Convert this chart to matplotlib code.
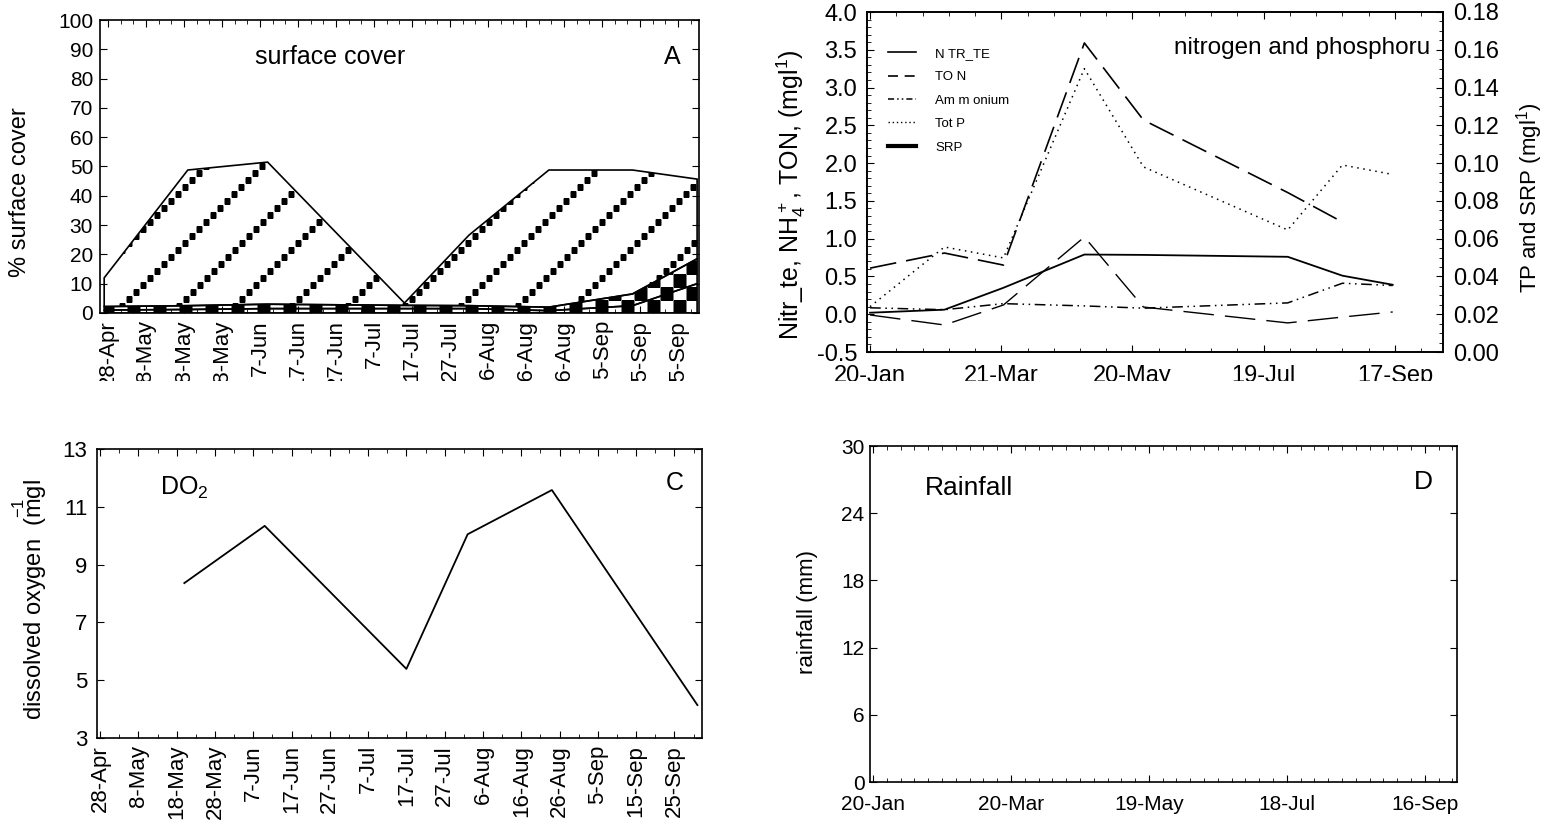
import numpy as np
import matplotlib
matplotlib.use('Agg')
import matplotlib.pyplot as plt
from matplotlib.lines import Line2D
from matplotlib.patches import PathPatch
from matplotlib.ticker import FixedLocator, MultipleLocator, AutoMinorLocator
from matplotlib.transforms import Bbox, TransformedBbox

plt.rcParams['font.family'] = ['Liberation Sans', 'DejaVu Sans']
plt.rcParams['mathtext.default'] = 'regular'
plt.rcParams['axes.unicode_minus'] = False
plt.rcParams['xtick.direction'] = 'in'
plt.rcParams['ytick.direction'] = 'in'
plt.rcParams['axes.linewidth'] = 1.2

NARROW = ['Liberation Sans Narrow', 'Liberation Sans', 'DejaVu Sans']

# ---- A: surface cover, stacked layers (%) against day of year ----
cover_days = [117, 139, 160, 196, 213, 234, 256, 273]
cover_layer1 = [1.0, 1.2, 1.5, 1.5, 1.5, 0.8, 2.5, 10.0]
cover_layer2 = [1.2, 1.3, 1.5, 1.1, 1.0, 1.2, 4.0, 8.5]
cover_layer3 = [9.8, 46.3, 48.5, 0.8, 24.1, 46.8, 42.3, 27.2]

summer_ticks = [118, 128, 138, 148, 158, 168, 178, 188, 198, 208, 218, 228, 238, 248, 258, 268]
summer_labels = ['28-Apr', '8-May', '18-May', '28-May', '7-Jun', '17-Jun', '27-Jun', '7-Jul',
                 '17-Jul', '27-Jul', '6-Aug', '16-Aug', '26-Aug', '5-Sep', '15-Sep', '25-Sep']

# ---- B: nitrogen and phosphorus ----
nut_days = [20, 54, 81, 118, 145, 211, 236, 259]
nitrate = [0.02, 0.06, 0.35, 0.79, 0.785, 0.76, 0.51, 0.39]
ton = [0.61, 0.81, 0.65, 3.59, 2.57, 1.61, 1.22, np.nan]
ammonium = [0.085, 0.06, 0.14, 0.11, 0.08, 0.15, 0.41, 0.38]
tot_p = [0.024, 0.0556, 0.0498, 0.150, 0.098, 0.0646, 0.099, 0.094]
srp = [0.0196, 0.0143, 0.0249, 0.0609, 0.0238, 0.0154, 0.0185, 0.0212]
nut_ticks = [20, 80, 140, 200, 260]
nut_labels = ['20-Jan', '21-Mar', '20-May', '19-Jul', '17-Sep']

# ---- C: dissolved oxygen ----
do_days = [140, 161, 198, 214, 236, 274]
do_values = [8.36, 10.34, 5.39, 10.05, 11.58, 4.14]
do_ticks = [3, 5, 7, 9, 11, 13]

# ---- D: rainfall (no data drawn) ----
rain_ticks = [20, 80, 140, 200, 260]
rain_labels = ['20-Jan', '20-Mar', '19-May', '18-Jul', '16-Sep']

W, H = 1556, 821
fig = plt.figure(figsize=(W / 100, H / 100), dpi=100)


def box(l, t, r, b):
    return [l / W, 1 - b / H, (r - l) / W, (b - t) / H]


def square_pattern(ax, poly, xs_px, ys_px, size_px):
    w, h = ax.bbox.width, ax.bbox.height
    ln, = ax.plot(np.asarray(xs_px) / w, np.asarray(ys_px) / h, ls='none', marker='s',
                  ms=size_px * 0.72, mfc='black', mec='none', transform=ax.transAxes, zorder=1.5)
    ln.set_clip_path(poly.get_paths()[0], ax.transData)


def ticks(ax, labelsize, xpad, ypad):
    ax.tick_params(which='both', top=True, right=True, labelsize=labelsize)
    ax.tick_params(axis='x', pad=xpad)
    ax.tick_params(axis='y', pad=ypad)
    ax.tick_params(which='major', length=5)
    ax.tick_params(which='minor', length=3)


top_clip = TransformedBbox(Bbox([[0, 1 - 381 / H], [1, 1]]), fig.transFigure)

# ================= A =================
axA = fig.add_axes(box(100, 20, 699, 313))
polys = axA.stackplot(cover_days, cover_layer1, cover_layer2, cover_layer3,
                      colors=['white'] * 3, edgecolor='none', zorder=1)
axA.set_xlim(115.9, 273.5)
axA.set_ylim(0, 100)

wA, hA = axA.bbox.width, axA.bbox.height
# checker pattern for the two bottom layers
cell = 13
gx, gy = np.meshgrid(np.arange(cell / 2, wA, cell), np.arange(cell / 2, 100, cell))
on = ((gx // cell + gy // cell) % 2 == 0)
for p in polys[:2]:
    square_pattern(axA, p, gx[on], gy[on], cell)
# diagonal rows of squares for the top layer
dx, dy = [], []
for c in np.arange(15 - 56.5 * 6, wA, 56.5):
    t = np.arange(0, hA, 7.0)
    dx.append(c + t)
    dy.append(t)
square_pattern(axA, polys[2], np.concatenate(dx), np.concatenate(dy), 6.3)
for p in polys:
    axA.add_patch(PathPatch(p.get_paths()[0], fill=False, ec='black', lw=1.2,
                            transform=axA.transData, zorder=2))

axA.yaxis.set_major_locator(MultipleLocator(10))
axA.xaxis.set_major_locator(FixedLocator(summer_ticks))
axA.set_xticklabels(summer_labels, rotation=90)
axA.xaxis.set_minor_locator(AutoMinorLocator(3))
ticks(axA, 15, 5, 5)
axA.tick_params(axis='x', labelsize=16)
axA.set_ylabel('% surface cover', fontsize=17, va='center')
axA.yaxis.set_label_coords((20 - 100) / 599, 0.413)
axA.text(0.384, 0.874, 'surface cover', transform=axA.transAxes, fontsize=18, ha='center', va='center')
axA.text(0.955, 0.874, 'A', transform=axA.transAxes, fontsize=18, ha='center', va='center')

# ================= B =================
axB = fig.add_axes(box(867, 12, 1443, 352))
axB.plot(nut_days, nitrate, color='black', lw=1.3)
axB.plot(nut_days, ton, color='black', lw=1.2, dashes=(16, 6))
axB.plot(nut_days, ammonium, color='black', lw=1.1, dashes=(7, 3, 1, 3, 1, 3))
axB.set_xlim(18.6, 282)
axB.set_ylim(-0.5, 4.0)
axB2 = axB.twinx()
axB2.plot(nut_days, tot_p, color='black', lw=1.1, dashes=(1, 3))
axB2.plot(nut_days, srp, color='black', lw=1.0, dashes=(22, 8))
axB2.set_ylim(0, 0.18)

axB.xaxis.set_major_locator(FixedLocator(nut_ticks))
axB.set_xticklabels(nut_labels)
axB.xaxis.set_minor_locator(AutoMinorLocator(5))
axB.yaxis.set_major_locator(MultipleLocator(0.5))
axB.yaxis.set_minor_locator(AutoMinorLocator(5))
axB.yaxis.set_major_formatter('{x:.1f}')
ticks(axB, 17, 9, 7)
axB.tick_params(which='both', right=False)
axB2.yaxis.set_major_locator(MultipleLocator(0.02))
axB2.yaxis.set_minor_locator(AutoMinorLocator(4))
axB2.yaxis.set_major_formatter('{x:.2f}')
axB2.tick_params(which='both', labelsize=17, pad=7)
axB2.tick_params(which='major', length=5)
axB2.tick_params(which='minor', length=3)

axB.set_ylabel('Nitr_te, NH$_4^+$, TON, (mgl$^1$)', fontsize=18, va='center')
axB.yaxis.set_label_coords((791 - 867) / 576, 0.462)
axB2.set_ylabel('TP and SRP (mgl$^1$)', fontsize=16, va='center')
axB2.yaxis.set_label_coords((1530 - 867) / 576, 0.453)
axB.text(0.977, 0.894, 'nitrogen and phosphoru', transform=axB.transAxes, fontsize=17.5,
         ha='right', va='center')

handles = [Line2D([], [], color='black', lw=1.2),
           Line2D([], [], color='black', lw=1.2, dashes=(6, 4)),
           Line2D([], [], color='black', lw=1.1, dashes=(4, 2, 1, 2, 1, 2)),
           Line2D([], [], color='black', lw=1.0, dashes=(1, 2)),
           Line2D([], [], color='black', lw=3)]
axB.legend(handles, ['N TR_TE', 'TO N', 'Am m onium', 'Tot P', 'SRP'], loc='upper left',
           bbox_to_anchor=(0.025, 0.915), frameon=False, borderpad=0, handlelength=2.1,
           handletextpad=1.5, labelspacing=0.85, prop={'family': NARROW, 'size': 9.5})

for lab in axA.get_xticklabels() + axB.get_xticklabels():
    lab.set_clip_box(top_clip)
    lab.set_clip_on(True)

# ================= C =================
axC = fig.add_axes(box(97, 449, 702, 738))
axC.plot(do_days, do_values, color='black', lw=1.3)
axC.set_xlim(117.2, 275.2)
axC.set_ylim(3, 13)
axC.yaxis.set_major_locator(FixedLocator(do_ticks))
axC.xaxis.set_major_locator(FixedLocator(summer_ticks))
axC.set_xticklabels(summer_labels, rotation=90)
axC.xaxis.set_minor_locator(AutoMinorLocator(2))
ticks(axC, 16, 5, 7)
axC.set_ylabel(r'dissolved oxygen  ($\overset{-1}{m}$gl', fontsize=17, va='center')
axC.yaxis.set_label_coords((30 - 97) / 605, 0.478)
axC.text(0.104, 0.865, 'DO$_2$', transform=axC.transAxes, fontsize=18, ha='left', va='center')
axC.text(0.955, 0.882, 'C', transform=axC.transAxes, fontsize=18, ha='center', va='center')

# ================= D =================
axD = fig.add_axes(box(870, 446, 1457, 782))
axD.set_xlim(18.7, 274)
axD.set_ylim(0, 30)
axD.yaxis.set_major_locator(MultipleLocator(6))
axD.xaxis.set_major_locator(FixedLocator(rain_ticks))
axD.set_xticklabels(rain_labels)
axD.xaxis.set_minor_locator(AutoMinorLocator(10))
ticks(axD, 15, 9, 4)
axD.set_ylabel('rainfall (mm)', fontsize=16, va='center')
axD.yaxis.set_label_coords((808 - 870) / 587, 0.506)
axD.text(0.094, 0.875, 'Rainfall', transform=axD.transAxes, fontsize=19, ha='left', va='center')
axD.text(0.942, 0.893, 'D', transform=axD.transAxes, fontsize=19, ha='center', va='center')

fig.savefig('out.png', dpi=100)
